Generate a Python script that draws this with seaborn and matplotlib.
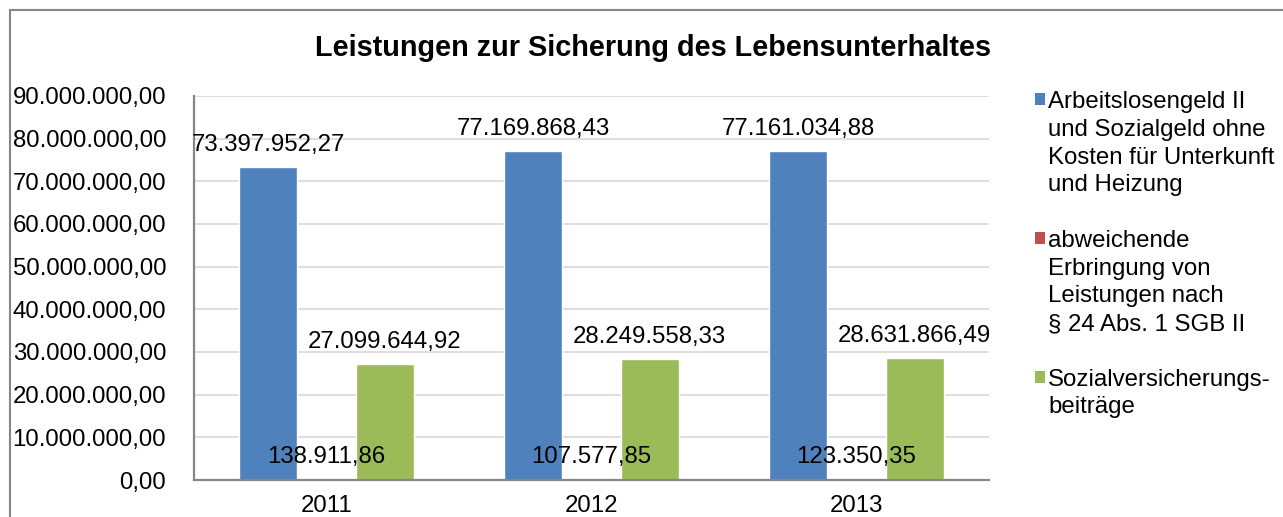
import matplotlib
matplotlib.use("Agg")
import matplotlib.pyplot as plt
from matplotlib.patches import Rectangle, Patch
import seaborn as sns
import pandas as pd

years = ["2011", "2012", "2013"]
series = [
    "Arbeitslosengeld II\nund Sozialgeld ohne\nKosten für Unterkunft\nund Heizung",
    "abweichende\nErbringung von\nLeistungen nach\n§ 24 Abs. 1 SGB II",
    "Sozialversicherungs-\nbeiträge",
]
alg2 = [73397952.27, 77169868.43, 77161034.88]
abweichend = [138911.86, 107577.85, 123350.35]
sozialvers = [27099644.92, 28249558.33, 28631866.49]
colors = ["#4F81BD", "#C0504D", "#9BBB59"]
title = "Leistungen zur Sicherung des Lebensunterhaltes"

def de(v):
    s = f"{v:,.2f}"
    return s.replace(",", "X").replace(".", ",").replace("X", ".")

rows = []
for name, vals in zip(series, [alg2, abweichend, sozialvers]):
    for y, v in zip(years, vals):
        rows.append({"Jahr": y, "Serie": name, "Wert": v})
df = pd.DataFrame(rows)

sns.set_theme(style="white")
plt.rcParams["font.family"] = ["Liberation Sans", "DejaVu Sans"]
FS = 17.3

fig = plt.figure(figsize=(12.83, 5.17), dpi=100)
ax = fig.add_axes([194/1283, 1-480/517, (989-194)/1283, (480-96)/517])

sns.barplot(data=df, x="Jahr", y="Wert", hue="Serie", hue_order=series,
            palette=colors, width=0.66, gap=0, dodge=True, ax=ax,
            errorbar=None, saturation=1, legend=False)

ax.set_ylim(0, 90000000)
ax.set_xlim(-0.5, 2.5)
ticks = list(range(0, 90000001, 10000000))
ax.set_yticks(ticks)
ax.set_yticklabels([de(t) for t in ticks], fontsize=FS)
ax.tick_params(axis="y", length=0, pad=20, labelcolor="black")
ax.tick_params(axis="x", length=0, pad=11, labelsize=FS, labelcolor="black")
ax.set_xlabel("")
ax.set_ylabel("")
ax.yaxis.grid(True, color="#D9D9D9", lw=1.2)
ax.set_axisbelow(True)
for s in ["top", "right"]:
    ax.spines[s].set_visible(False)
for s in ["left", "bottom"]:
    ax.spines[s].set_color("#868686")
    ax.spines[s].set_linewidth(1.6)

for cont, vals in zip(ax.containers, [alg2, abweichend, sozialvers]):
    ax.bar_label(cont, labels=[de(v) for v in vals], padding=8, fontsize=FS,
                 color="black")

fig.text(653/1283, 1-48/517, title, ha="center", va="center",
         fontsize=20.8, fontweight="bold", color="black")

# legend: one row per text line, handle only on first line
handles, labels = [], []
for i, (name, c) in enumerate(zip(series, colors)):
    lines = name.split("\n")
    for j, ln in enumerate(lines):
        if j == 0:
            handles.append(Patch(facecolor=c, edgecolor="none"))
        else:
            handles.append(Patch(facecolor="none", edgecolor="none"))
        labels.append(ln)
    if i < len(series) - 1:
        handles.append(Patch(facecolor="none", edgecolor="none"))
        labels.append(" ")
fig.legend(handles, labels, loc="upper left", bbox_to_anchor=(1035/1283, 1-91/517),
           frameon=False, fontsize=FS, handlelength=0.4, handleheight=0.4,
           handletextpad=0.15, labelspacing=0.24, borderpad=0, borderaxespad=0,
           labelcolor="black")

fig.patches.append(Rectangle((10/1283, -0.2), 1.2, (517-10)/517 + 0.2,
                             transform=fig.transFigure, fill=False,
                             edgecolor="#868686", lw=1.5, zorder=10))

fig.savefig("out.png", dpi=100)
